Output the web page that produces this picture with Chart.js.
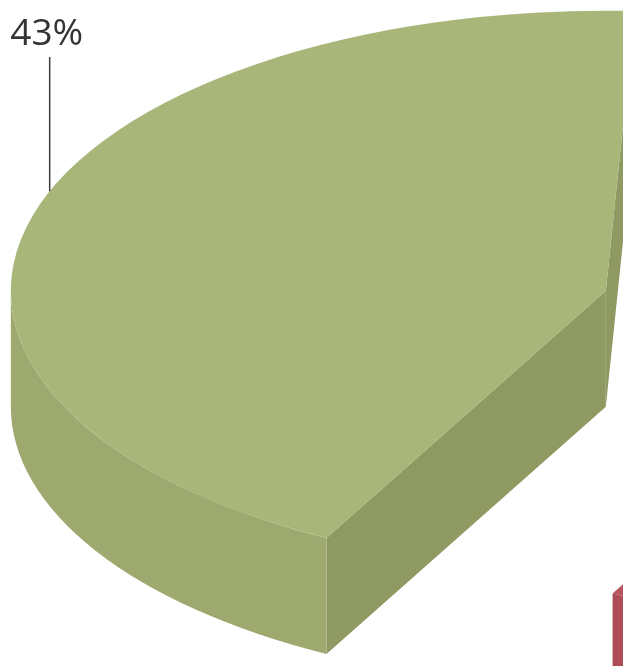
<!DOCTYPE html>
<html lang="en">
<head>
    <meta charset="UTF-8">
    <meta name="viewport" content="width=device-width, initial-scale=1.0">
    <title>Share of total</title>
    <script src="https://cdn.jsdelivr.net/npm/chart.js@4.4.1/dist/chart.umd.min.js"></script>
    <style>
        html, body { margin: 0; padding: 0; background: #fff; overflow: hidden; }
    </style>
</head>
<body>
    <canvas id="myChart" width="623" height="666"></canvas>
    <script>
        // slice data (clockwise from the front-left edge of the big slice)
        const labels = ['A', 'B', 'C', 'D'];
        const values = [43, 15, 12, 30];

        // per-slice colours: top face, outer rim, cut faces
        const topColors  = ['#a9b679', '#7094bd', '#e2a64f', '#b8565f'];
        const wallColors = ['#9da96e', '#6687ad', '#d39944', '#ad4e57'];
        const cutColors  = ['#8f9a63', '#5b7aa0', '#c38c3c', '#9e4750'];

        // where each slice sits once pulled out (px, along its middle angle)
        function sliceGeom(chart, opts) {
            const arcs = chart.getDatasetMeta(0).data;
            return arcs.map((arc, i) => {
                const p = arc.getProps(['x', 'y', 'startAngle', 'endAngle', 'outerRadius']);
                const mid = (p.startAngle + p.endAngle) / 2;
                const d = opts.explode[i] || 0;
                return {
                    arc, i,
                    s: p.startAngle, e: p.endAngle, r: p.outerRadius,
                    ox: p.x, oy: p.y,
                    cx: opts.centerX + Math.cos(mid) * d,
                    cy: opts.centerY + Math.sin(mid) * d * opts.tilt
                };
            });
        }

        function drawSides(ctx, p, opts) {
            const ry = p.r * opts.tilt;
            const depth = opts.depth;
            const px = a => p.cx + p.r * Math.cos(a);
            const py = a => p.cy + ry * Math.sin(a);

            const cut = a => {
                ctx.beginPath();
                ctx.moveTo(p.cx, p.cy);
                ctx.lineTo(px(a), py(a));
                ctx.lineTo(px(a), py(a) + depth);
                ctx.lineTo(p.cx, p.cy + depth);
                ctx.closePath();
                ctx.fillStyle = cutColors[p.i];
                ctx.fill();
            };
            if (Math.cos(p.s) < 0) cut(p.s);
            if (Math.cos(p.e) > 0) cut(p.e);

            // rim: only the front half of the ellipse is seen
            const TAU = Math.PI * 2;
            const k0 = Math.floor(p.s / TAU) - 1;
            for (let k = k0; k <= k0 + 3; k++) {
                const lo = Math.max(p.s, TAU * k);
                const hi = Math.min(p.e, TAU * k + Math.PI);
                if (hi <= lo) continue;
                ctx.beginPath();
                ctx.ellipse(p.cx, p.cy, p.r, ry, 0, lo, hi);
                ctx.ellipse(p.cx, p.cy + depth, p.r, ry, 0, hi, lo, true);
                ctx.closePath();
                ctx.fillStyle = wallColors[p.i];
                ctx.fill();
            }
        }

        const pie3d = {
            id: 'pie3d',
            beforeDatasetsDraw(chart, args, opts) {
                const ctx = chart.ctx;
                const parts = sliceGeom(chart, opts);

                // sides first, back to front
                parts.slice().sort((a, b) => a.cy - b.cy).forEach(p => drawSides(ctx, p, opts));

                // top faces: the library's own arcs, squashed into the tilted plane
                parts.forEach(p => {
                    ctx.save();
                    ctx.translate(p.cx, p.cy);
                    ctx.scale(1, opts.tilt);
                    ctx.translate(-p.ox, -p.oy);
                    p.arc.draw(ctx);
                    ctx.restore();
                });
                return false;
            }
        };

        // percentage label with a leader line, for the first slice only
        const sliceLabel = {
            id: 'sliceLabel',
            afterDraw(chart, args, opts) {
                const ctx = chart.ctx;
                const geo = chart.options.plugins.pie3d;
                const p = sliceGeom(chart, geo)[opts.index];
                const a = p.s + (p.e - p.s) * opts.at;
                const ax = p.cx + p.r * Math.cos(a);
                const ay = p.cy + p.r * geo.tilt * Math.sin(a);

                ctx.save();
                ctx.strokeStyle = '#3d3d3d';
                ctx.lineWidth = 1.5;
                ctx.beginPath();
                ctx.moveTo(ax, ay);
                ctx.lineTo(ax, opts.lineTop);
                ctx.stroke();

                ctx.fillStyle = '#333333';
                ctx.font = '37px "Open Sans", sans-serif';
                ctx.textAlign = 'center';
                ctx.textBaseline = 'alphabetic';
                ctx.fillText(values[opts.index] + '%', ax - 3, opts.textBaseline);
                ctx.restore();
            }
        };

        const ctx = document.getElementById('myChart').getContext('2d');
        new Chart(ctx, {
            type: 'pie',
            data: {
                labels: labels,
                datasets: [{
                    data: values,
                    backgroundColor: topColors,
                    borderWidth: 0,
                    radius: 595
                }]
            },
            options: {
                responsive: false,
                animation: false,
                events: [],
                rotation: 208,
                radius: 595,
                layout: { padding: 0 },
                plugins: {
                    legend: { display: false },
                    tooltip: { enabled: false },
                    pie3d: {
                        centerX: 870,
                        centerY: 325,
                        tilt: 0.4706,
                        depth: 116,
                        explode: [274, 40, 40, 50]
                    },
                    sliceLabel: { index: 0, at: 0.535, lineTop: 57, textBaseline: 45 }
                }
            },
            plugins: [pie3d, sliceLabel]
        });
    </script>
</body>
</html>
